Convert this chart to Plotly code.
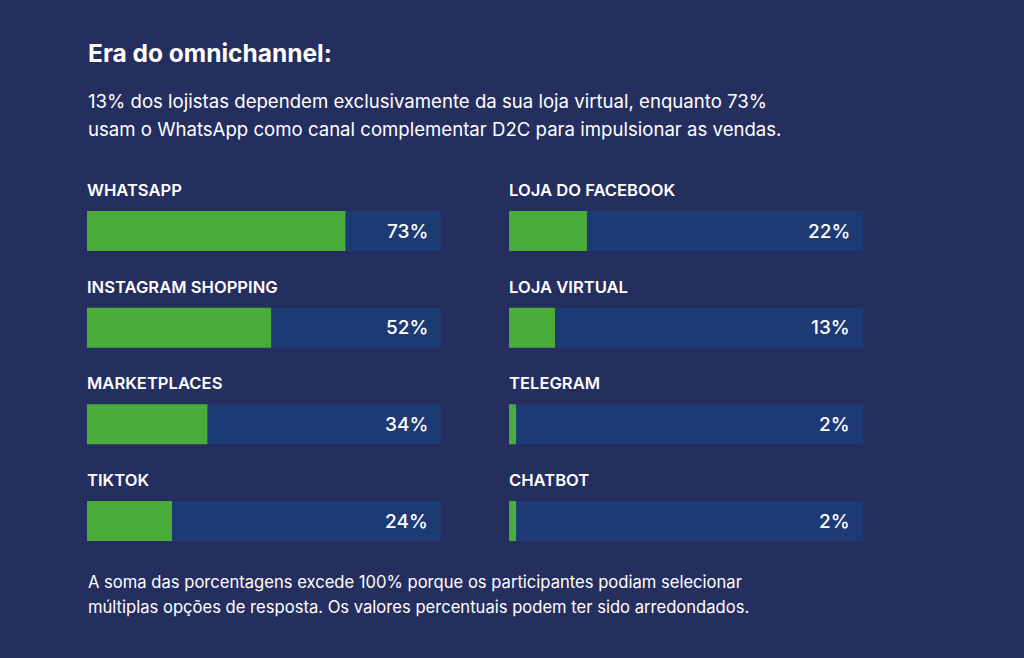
import plotly.graph_objects as go

# ---- data ----
left_categories = ["WHATSAPP", "INSTAGRAM SHOPPING", "MARKETPLACES", "TIKTOK"]
left_values = [73, 52, 34, 24]
right_categories = ["LOJA DO FACEBOOK", "LOJA VIRTUAL", "TELEGRAM", "CHATBOT"]
right_values = [22, 13, 2, 2]

title_text = "Era do omnichannel:"
subtitle_lines = [
    "13% dos lojistas dependem exclusivamente da sua loja virtual, enquanto 73%",
    "usam o WhatsApp como canal complementar D2C para impulsionar as vendas.",
]
footnote_lines = [
    "A soma das porcentagens excede 100% porque os participantes podiam selecionar",
    "múltiplas opções de resposta. Os valores percentuais podem ter sido arredondados.",
]

# ---- style ----
W, H = 1024, 658
BG = "#242e5f"
TRACK = "#1e3a74"
GREEN = "#4aad3a"
WHITE = "#ffffff"
FONT = "Inter"

fig = go.Figure()

rows = list(range(len(left_categories)))
for cats, vals, xa in [(left_categories, left_values, "x"), (right_categories, right_values, "x2")]:
    fig.add_trace(go.Bar(
        x=[100] * len(cats), y=rows, orientation="h", base=0,
        marker=dict(color=TRACK, line=dict(width=0)), width=0.414,
        xaxis=xa, yaxis="y", hoverinfo="skip", showlegend=False,
    ))
    fig.add_trace(go.Bar(
        x=vals, y=rows, orientation="h", base=0,
        marker=dict(color=GREEN, line=dict(width=0)), width=0.414,
        xaxis=xa, yaxis="y", hoverinfo="skip", showlegend=False,
    ))
    for i, (c, v) in enumerate(zip(cats, vals)):
        fig.add_annotation(
            x=0, y=i, xref=xa, yref="y", text=c, showarrow=False,
            xanchor="left", yanchor="middle", yshift=41, xshift=-2,
            font=dict(family=FONT, size=16.6, color=WHITE, weight=600),
        )
        fig.add_annotation(
            x=100, y=i, xref=xa, yref="y", text=f"{v}%", showarrow=False,
            xanchor="right", yanchor="middle", xshift=-11,
            font=dict(family=FONT, size=19, color=WHITE, weight=500),
        )

# title and texts
fig.add_annotation(
    x=86 / W, y=1 - 53 / H, xref="paper", yref="paper", text=title_text,
    showarrow=False, xanchor="left", yanchor="middle",
    font=dict(family=FONT, size=24.5, color=WHITE, weight=700),
)
for k, line in enumerate(subtitle_lines):
    fig.add_annotation(
        x=86 / W, y=1 - (101 + 28 * k) / H, xref="paper", yref="paper", text=line,
        showarrow=False, xanchor="left", yanchor="middle",
        font=dict(family=FONT, size=18.6, color=WHITE),
    )
for k, line in enumerate(footnote_lines):
    fig.add_annotation(
        x=86 / W, y=1 - (582 + 25 * k) / H, xref="paper", yref="paper", text=line,
        showarrow=False, xanchor="left", yanchor="middle",
        font=dict(family=FONT, size=16.6, color=WHITE),
    )

# row i centre at pixel 231 + 96.67*i
step = 96.67
top = -231 / step
bottom = (H - 231) / step
fig.update_layout(
    width=W, height=H, paper_bgcolor=BG, plot_bgcolor=BG,
    margin=dict(l=0, r=0, t=0, b=0), barmode="overlay",
    xaxis=dict(domain=[87 / W, 441 / W], range=[0, 100], visible=False, fixedrange=True),
    xaxis2=dict(domain=[509 / W, 863 / W], range=[0, 100], visible=False, anchor="y", fixedrange=True),
    yaxis=dict(domain=[0, 1], range=[bottom, top], visible=False, fixedrange=True),
    font=dict(family=FONT, color=WHITE),
)

fig.write_html(
    "out.html",
    config={"displayModeBar": False},
    post_script="document.body.style.margin='0';document.body.style.background='" + BG + "';",
)
